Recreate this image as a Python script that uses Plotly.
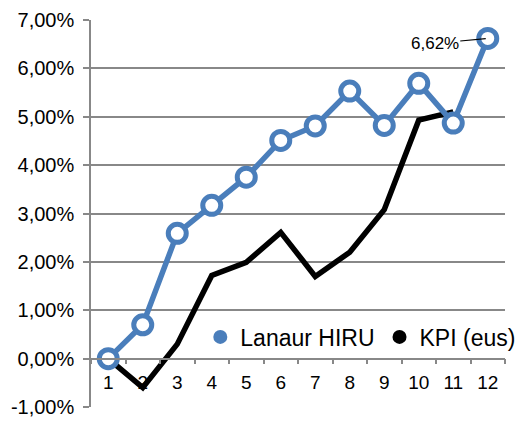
import plotly.graph_objects as go

months = ["1", "2", "3", "4", "5", "6", "7", "8", "9", "10", "11", "12"]
lanaur_hiru = [0.00, 0.70, 2.59, 3.17, 3.75, 4.51, 4.81, 5.53, 4.82, 5.69, 4.87, 6.62]
kpi_eus = [0.00, -0.60, 0.30, 1.72, 1.99, 2.61, 1.70, 2.20, 3.08, 4.93, 5.10]
y_ticks = [-1, 0, 1, 2, 3, 4, 5, 6, 7]
y_tick_labels = ["-1,00%", "0,00%", "1,00%", "2,00%", "3,00%", "4,00%", "5,00%", "6,00%", "7,00%"]
series_names = ["Lanaur HIRU", "KPI (eus)"]

BLUE = "#4A7EBB"
GRID = "#888888"
FONT = "Liberation Sans, Arial, sans-serif"

fig = go.Figure()
fig.add_trace(go.Scatter(
    x=months[:len(kpi_eus)], y=kpi_eus, mode="lines",
    line=dict(color="black", width=5.5), showlegend=False, hoverinfo="skip"))
fig.add_trace(go.Scatter(
    x=months, y=lanaur_hiru, mode="lines+markers",
    line=dict(color=BLUE, width=5.5),
    marker=dict(size=18, color="white", line=dict(color=BLUE, width=5)),
    showlegend=False, hoverinfo="skip"))
# legend-only entries (dots)
fig.add_trace(go.Scatter(x=[None], y=[None], mode="markers", name=series_names[0],
                         marker=dict(size=14, color=BLUE)))
fig.add_trace(go.Scatter(x=[None], y=[None], mode="markers", name=series_names[1],
                         marker=dict(size=14, color="black")))

last = len(lanaur_hiru) - 1
fig.add_annotation(
    x=last, y=lanaur_hiru[last],
    text=f"{lanaur_hiru[last]:.2f}%".replace(".", ","),
    showarrow=True, arrowhead=0, arrowwidth=1.2, arrowcolor="black",
    ax=-53, ay=5, standoff=2,
    font=dict(family=FONT, size=17, color="black"))

fig.update_layout(
    width=519, height=421,
    margin=dict(l=91, r=14, t=20, b=14, autoexpand=False),
    paper_bgcolor="white", plot_bgcolor="white",
    font=dict(family=FONT, size=20, color="black"),
    legend=dict(orientation="h", x=0.264, xanchor="left", y=0.181, yanchor="middle",
                bgcolor="rgba(0,0,0,0)", font=dict(size=23, family=FONT),
                itemwidth=30, tracegroupgap=0),
    xaxis=dict(type="category", range=[-0.5, 11.5], anchor="free", position=0.125,
               showline=True, linecolor=GRID, linewidth=1.5,
               ticks="outside", ticklen=5, tickcolor=GRID, tickwidth=1.5,
               tickson="boundaries", showgrid=False, zeroline=False, automargin=False,
               tickangle=0, ticklabelstandoff=7, tickfont=dict(size=19)),
    yaxis=dict(range=[-1, 7], tickvals=y_ticks, ticktext=y_tick_labels,
               showline=True, linecolor=GRID, linewidth=1.5,
               ticks="outside", ticklen=6, tickcolor=GRID, tickwidth=1.5,
               showgrid=True, gridcolor=GRID, gridwidth=1.5, zeroline=False, automargin=False,
               ticklabelstandoff=5, tickfont=dict(size=20)),
)

fig.write_html("out.html", config={"displayModeBar": False},
               post_script="document.body.style.margin='0px';")
